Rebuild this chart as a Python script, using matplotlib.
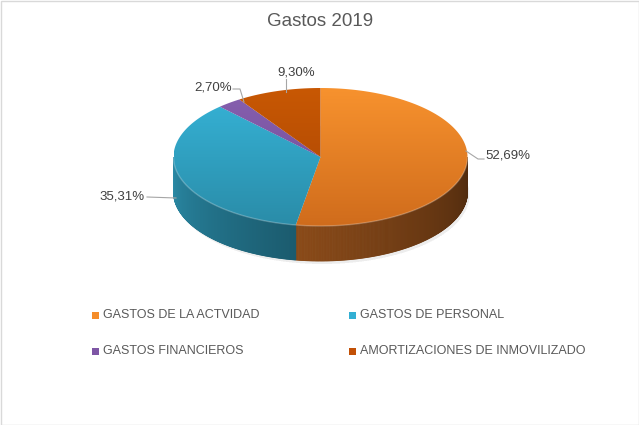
import numpy as np
import matplotlib.pyplot as plt
import matplotlib.colors as mcolors
from matplotlib.path import Path
from matplotlib.patches import PathPatch, Polygon, Rectangle

# --- data ---
TITLE = 'Gastos 2019'
CATEGORIES = ['GASTOS DE LA ACTVIDAD', 'GASTOS DE PERSONAL',
              'GASTOS FINANCIEROS', 'AMORTIZACIONES DE INMOVILIZADO']
VALUES = [52.69, 35.31, 2.70, 9.30]
VALUE_LABELS = ['52,69%', '35,31%', '2,70%', '9,30%']

# --- style ---
COLORS = ['#F58D2A', '#33AFD3', '#7E56A5', '#C25006']
TOP_LIGHT = ['#F7922E', '#36B4D8', '#8760B0', '#C85804']
TOP_DARK = ['#D06C1C', '#2A8CA8', '#6E4A92', '#A84403']
SIDE_LIGHT = ['#8A4A18', '#2A8AA6', '#5E3F80', '#8A3A04']
SIDE_DARK = ['#4E2A0E', '#1B5B6E', '#3E2A55', '#5A2602']
TXT = '#595959'
LBL = '#404040'

# pie geometry in pixels
CX, CY, RX, RY, DEPTH = 320.5, 157, 147, 69, 35

# label placement (pixels): text pos, alignment, leader polyline
LABEL_POS = [(485, 155, 'left'), (145, 196, 'right'), (232, 87, 'right'), (296, 72, 'center')]
LEADERS = [[(466, 151), (478, 159), (484, 159)],
           [(147, 197), (176, 198)],
           [(233, 89), (240, 89), (244, 102)],
           [(286, 79), (286, 92)]]

plt.rcParams['font.family'] = ['Liberation Sans', 'DejaVu Sans']

fig = plt.figure(figsize=(6.39, 4.25), dpi=100)
ax = fig.add_axes([0, 0, 1, 1])
ax.set_xlim(0, 639)
ax.set_ylim(425, 0)
ax.axis('off')


def ell(t):
    r = np.radians(t)
    return CX + RX * np.cos(r), CY - RY * np.sin(r)


# angles: start at 12 o'clock, clockwise
fracs = np.array(VALUES) / np.sum(VALUES)
cum = np.concatenate([[0], np.cumsum(fracs)])
t_start = 90 - cum[:-1] * 360
t_end = 90 - cum[1:] * 360

# soft shadow under the pie
for k in range(6):
    sh = np.linspace(0, 360, 200)
    xs, ys = ell(sh)
    ax.fill(xs + 2, ys + DEPTH + 3, color='#000000', alpha=0.012, lw=0, zorder=0)

# side walls (front half only)
for i in range(len(VALUES)):
    ts = np.linspace(t_start[i], t_end[i], 400)
    front = ts[np.sin(np.radians(ts)) < 0]
    if len(front) < 2:
        continue
    c1 = np.array(mcolors.to_rgb(SIDE_DARK[i]))
    c2 = np.array(mcolors.to_rgb(SIDE_LIGHT[i]))
    n = len(front)
    for j in range(n - 1):
        f = j / (n - 2) if n > 2 else 0
        col = c1 + (c2 - c1) * f
        x0, y0 = ell(front[j])
        x1, y1 = ell(front[j + 1])
        ax.add_patch(Polygon([(x0, y0), (x1, y1), (x1, y1 + DEPTH), (x0, y0 + DEPTH)],
                             closed=True, fc=col, ec=col, lw=0.6, zorder=2))

# top surface with vertical gradient
for i in range(len(VALUES)):
    ts = np.linspace(t_start[i], t_end[i], 300)
    xs, ys = ell(ts)
    verts = [(CX, CY)] + list(zip(xs, ys)) + [(CX, CY)]
    path = Path(verts, closed=True)
    patch = PathPatch(path, fc='none', ec='none', zorder=3)
    ax.add_patch(patch)
    c1 = np.array(mcolors.to_rgb(TOP_LIGHT[i]))
    c2 = np.array(mcolors.to_rgb(TOP_DARK[i]))
    g = np.linspace(0, 1, 128)[:, None, None]
    img = c1 + (c2 - c1) * g
    im = ax.imshow(img, extent=(CX - RX, CX + RX, CY + RY, CY - RY), origin='upper',
                   aspect='auto', interpolation='bilinear', zorder=3)
    im.set_clip_path(patch)

# light rim on the front edge
rim = np.linspace(180, 360, 300)
xs, ys = ell(rim)
ax.plot(xs, ys, color='white', alpha=0.25, lw=1, zorder=4)

ax.set_xlim(0, 639)
ax.set_ylim(425, 0)

# data labels with leader lines
for i, lab in enumerate(VALUE_LABELS):
    lx, ly, ha = LABEL_POS[i]
    pts = np.array(LEADERS[i])
    ax.plot(pts[:, 0], pts[:, 1], color='#A6A6A6', lw=0.8, zorder=5)
    ax.text(lx, ly, lab, ha=ha, va='center', fontsize=9.5, color=LBL, zorder=6)

# title
ax.text(320, 21, TITLE, ha='center', va='center', fontsize=13.5, color=TXT)

# legend
leg_x = [95.5, 352]
leg_y = [315, 351]
for i, cat in enumerate(CATEGORIES):
    x = leg_x[i % 2]
    y = leg_y[i // 2]
    ax.add_patch(Rectangle((x - 3.5, y - 3.5), 7, 7, fc=COLORS[i], ec='none'))
    ax.text(x + 7.5, y, cat, ha='left', va='center', fontsize=9, color=TXT)

# chart border
ax.add_patch(Rectangle((0.5, 0.5), 638, 424, fc='none', ec='#D9D9D9', lw=1))

fig.savefig('out.png', dpi=100, facecolor='white')
